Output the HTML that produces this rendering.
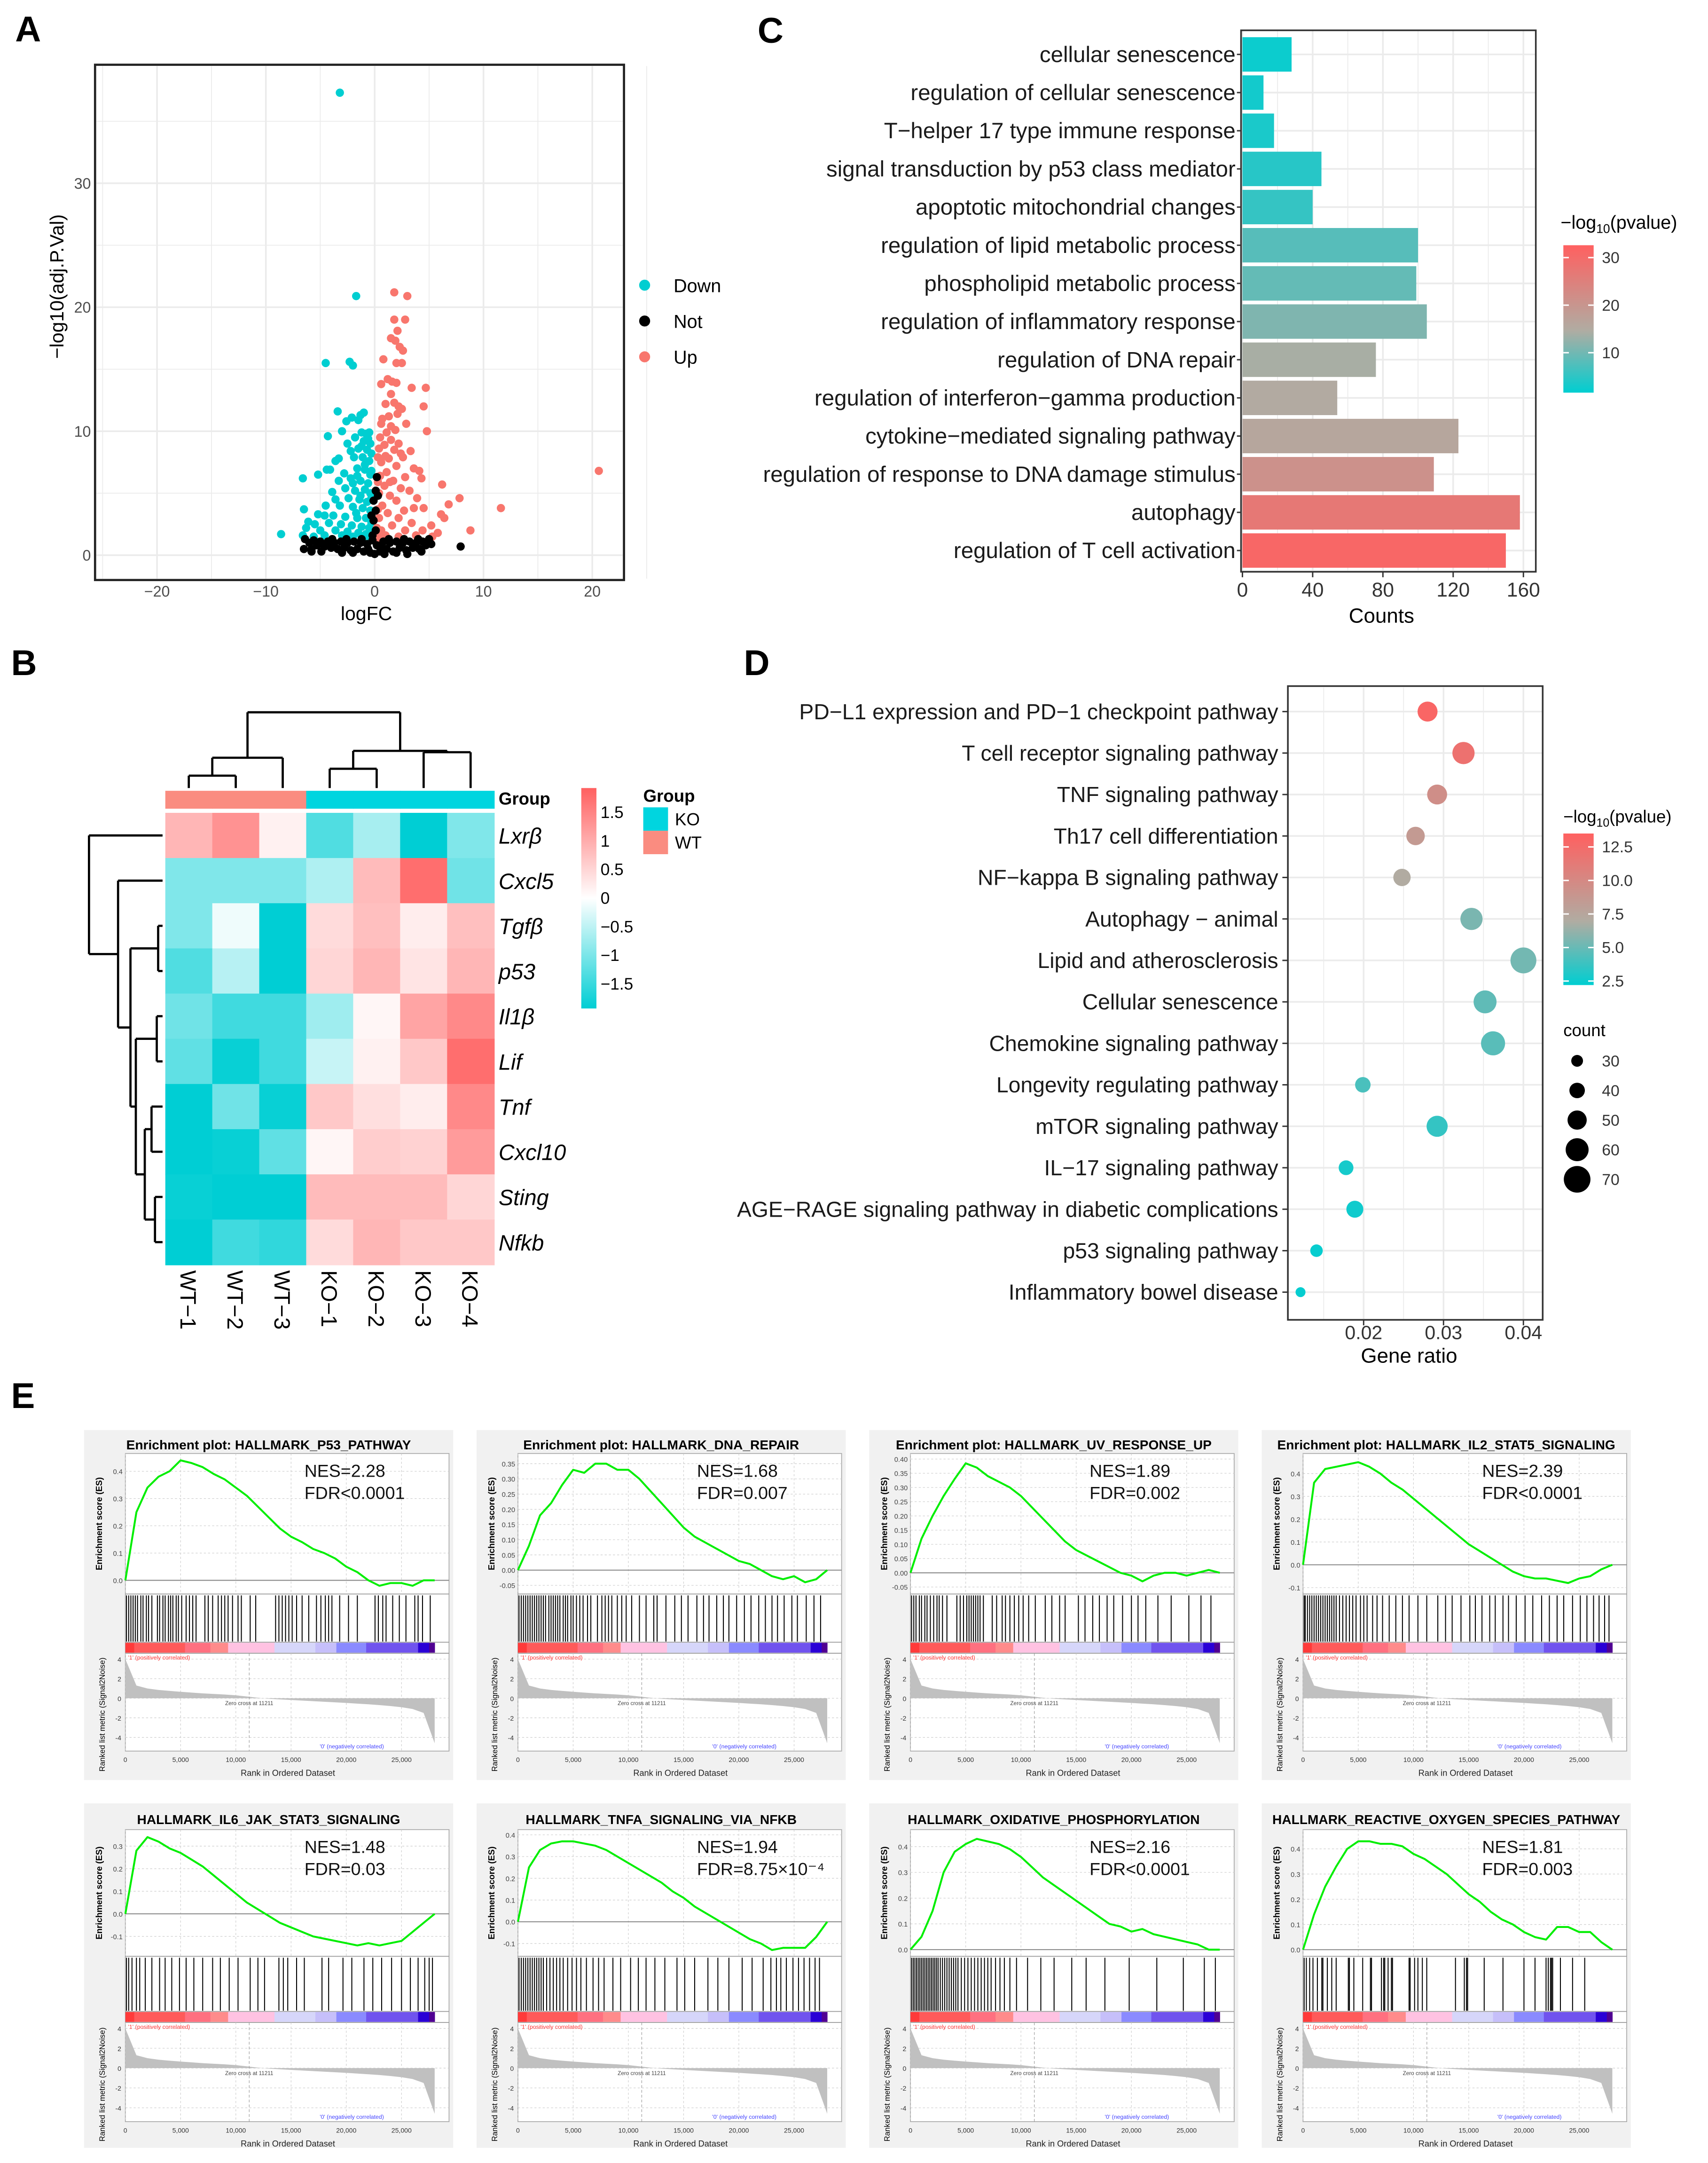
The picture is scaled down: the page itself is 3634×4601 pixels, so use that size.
<!DOCTYPE html>
<html><head><meta charset="utf-8">
<style>
html,body{margin:0;padding:0;background:#fff;}
svg{display:block;font-family:"Liberation Sans",Arial,sans-serif;}
</style></head>
<body>
<svg id="fig" xmlns="http://www.w3.org/2000/svg" width="3634" height="4601" viewBox="0 0 1240 1570">
<rect x="0" y="0" width="1240" height="1570" fill="#fff"/>
<text x="11" y="30" font-size="26" font-weight="bold">A</text>
<text x="8" y="490" font-size="26" font-weight="bold">B</text>
<text x="550" y="31" font-size="26" font-weight="bold">C</text>
<text x="540" y="490" font-size="26" font-weight="bold">D</text>
<text x="8" y="1022" font-size="26" font-weight="bold">E</text>
</svg>
<script>
// ---------- DATA ----------
const downPts=[[-3.2,37.3],[-1.7,20.9],[-4.5,15.5],[-2.3,15.6],[-2.0,15.3],[-3.4,11.6],[-1.0,11.5],[-1.3,11.3],[-2.1,11.1],[-2.6,10.8],[-1.5,10.9],[-3.0,10.0],[-4.3,9.6],[-1.2,9.9],[-0.8,9.8],[-0.5,9.9],[-1.8,9.5],[-2.5,9.0],[-1.0,9.2],[-0.4,9.0],[-1.5,8.6],[-2.2,8.4],[-0.7,8.5],[-3.6,7.6],[-3.3,7.8],[-1.9,7.9],[-1.1,7.9],[-0.5,7.6],[-4.1,6.9],[-4.4,6.9],[-5.2,6.5],[-2.8,6.6],[-1.6,7.0],[-0.9,6.9],[-0.4,6.5],[-6.6,6.2],[-3.3,6.0],[-2.2,6.2],[-1.3,6.0],[-0.6,5.8],[-2.7,5.4],[-1.8,5.2],[-0.9,5.3],[-0.4,5.0],[-3.9,5.1],[-3.6,4.5],[-2.4,4.6],[-1.4,4.5],[-0.7,4.3],[-4.5,4.0],[-3.2,4.0],[-2.0,3.9],[-1.1,3.8],[-0.4,3.6],[-6.5,3.7],[-5.2,3.3],[-4.6,3.2],[-3.8,3.2],[-2.7,3.1],[-1.6,3.0],[-0.8,3.0],[-6.1,2.7],[-5.5,2.5],[-4.2,2.6],[-3.1,2.5],[-2.1,2.4],[-1.2,2.3],[-0.5,2.2],[-6.3,2.2],[-5.0,2.0],[-3.6,2.0],[-2.5,1.9],[-1.5,1.8],[-0.8,1.7],[-8.6,1.7],[-6.6,1.6],[-4.6,1.6],[-3.0,1.6],[-2.0,1.5],[-1.0,1.5],[-0.4,1.4],[-5.6,1.5],[-0.3,8.2],[-0.3,6.8],[-0.3,4.6],[-0.3,2.6],[-1.6,6.4],[-1.3,4.8],[-0.9,7.3],[-2.0,5.8],[-1.7,3.4],[-1.2,8.8],[-0.6,9.4]];
const upPts=[[1.8,21.2],[3.0,20.9],[1.8,19.0],[2.8,19.0],[2.1,18.1],[1.5,17.5],[1.9,17.3],[2.3,16.8],[2.6,16.5],[0.8,15.8],[2.0,15.5],[2.5,15.5],[1.2,14.2],[1.6,14.0],[2.0,13.9],[0.6,13.8],[3.4,13.5],[4.7,13.5],[1.5,13.0],[1.8,12.3],[2.2,12.0],[4.5,12.0],[1.0,12.2],[2.5,11.8],[2.1,11.4],[1.3,11.2],[0.7,11.0],[2.9,10.6],[1.5,10.4],[0.6,10.6],[1.9,10.1],[1.1,9.9],[4.8,10.0],[0.5,9.5],[1.5,9.3],[2.2,9.0],[0.9,8.9],[1.8,8.5],[0.4,8.6],[3.3,8.4],[2.6,7.9],[1.3,7.8],[0.6,7.5],[2.0,7.2],[3.6,7.0],[4.1,6.8],[1.1,6.7],[0.5,6.4],[2.8,6.3],[4.3,6.2],[1.7,6.0],[6.2,5.7],[0.9,5.6],[2.4,5.4],[3.2,5.2],[0.4,5.0],[1.4,4.8],[3.9,4.6],[2.0,4.4],[7.8,4.6],[6.8,4.1],[0.7,4.0],[3.6,3.8],[2.7,3.6],[4.5,3.8],[1.2,3.4],[6.1,3.3],[6.4,3.0],[0.4,3.0],[2.2,3.0],[3.4,2.6],[5.2,2.4],[1.6,2.4],[8.8,2.0],[0.6,2.0],[2.8,2.0],[4.4,2.0],[5.8,1.8],[1.0,1.6],[3.8,1.6],[5.3,1.5],[2.2,1.5],[0.4,1.4],[20.6,6.8],[11.6,3.8],[0.3,7.9],[0.3,5.9],[0.3,3.7],[0.2,2.2],[1.0,8.0],[1.4,5.9],[2.4,8.2]];
const notPts=[[-6.4,1.3],[-6.0,1.0],[-5.6,1.2],[-5.3,0.8],[-5.0,1.1],[-4.6,0.7],[-4.3,1.1],[-4.0,0.6],[-3.7,1.0],[-3.4,0.5],[-3.1,1.1],[-2.8,0.6],[-2.5,1.0],[-2.2,0.4],[-1.9,1.1],[-1.6,0.5],[-1.3,1.0],[-1.0,0.3],[-0.7,0.9],[-0.4,0.2],[-0.2,1.2],[0,0.1],[0.2,0.8],[0.5,0.3],[0.8,1.1],[1.1,0.5],[1.4,1.0],[1.7,0.3],[2.0,1.1],[2.3,0.6],[2.6,1.0],[2.9,0.4],[3.2,1.1],[3.5,0.6],[3.8,1.0],[4.1,0.5],[4.4,1.1],[4.7,0.8],[5.0,1.3],[5.2,0.9],[7.9,0.7],[-6.5,0.5],[-5.8,0.3],[-5.8,0.5],[-4.9,0.3],[-3.0,0.2],[-2.0,0.2],[0.9,0.1],[2.0,0.2],[3.0,0.1],[4.3,0.3],[0.1,2.0],[-0.1,2.8],[0.1,3.6],[-0.1,4.4],[0.1,5.2],[0.2,6.3],[-0.2,1.6],[0.3,4.8],[-0.3,3.2],[-1.2,1.3],[1.3,1.3],[-2.6,1.3],[2.7,1.3],[-3.9,1.3],[4.0,1.3],[-0.6,0.5],[0.6,0.6]];
const goTerms=["cellular senescence","regulation of cellular senescence","T\u2212helper 17 type immune response","signal transduction by p53 class mediator","apoptotic mitochondrial changes","regulation of lipid metabolic process","phospholipid metabolic process","regulation of inflammatory response","regulation of DNA repair","regulation of interferon\u2212gamma production","cytokine\u2212mediated signaling pathway","regulation of response to DNA damage stimulus","autophagy","regulation of T cell activation"];
const goCounts=[28,12,18,45,40,100,99,105,76,54,123,109,158,150];
const goLogP=[2.5,3,3.5,4.5,5.5,8,9,11,14,15,16,21,27,31];
const goTicks=[0,40,80,120,160];
const goLegendTicks=[10,20,30];
const hmRows=["Lxr\u03b2","Cxcl5","Tgf\u03b2","p53","Il1\u03b2","Lif","Tnf","Cxcl10","Sting","Nfkb"];
const hmCols=["WT\u22121","WT\u22122","WT\u22123","KO\u22121","KO\u22122","KO\u22123","KO\u22124"];
const hmGroups=["WT","WT","WT","KO","KO","KO","KO"];
const hmValues=[
[0.8,1.2,0.15,-1.1,-0.55,-1.65,-0.8],
[-0.8,-0.8,-0.8,-0.5,0.75,1.6,-0.9],
[-0.8,-0.1,-1.6,0.4,0.7,0.2,0.7],
[-1.1,-0.45,-1.6,0.45,0.8,0.3,0.8],
[-0.9,-1.2,-1.2,-0.6,0.1,1.0,1.3],
[-1.0,-1.55,-1.2,-0.35,0.15,0.6,1.6],
[-1.6,-0.9,-1.55,0.6,0.35,0.2,1.3],
[-1.6,-1.55,-1.0,0.1,0.55,0.5,1.1],
[-1.55,-1.6,-1.6,0.75,0.75,0.75,0.45],
[-1.6,-1.2,-1.3,0.4,0.8,0.6,0.6]];
const hmLegendTicks=[1.5,1,0.5,0,-0.5,-1,-1.5];
const kegg=["PD\u2212L1 expression and PD\u22121 checkpoint pathway","T cell receptor signaling pathway","TNF signaling pathway","Th17 cell differentiation","NF\u2212kappa B signaling pathway","Autophagy \u2212 animal","Lipid and atherosclerosis","Cellular senescence","Chemokine signaling pathway","Longevity regulating pathway","mTOR signaling pathway","IL\u221217 signaling pathway","AGE\u2212RAGE signaling pathway in diabetic complications","p53 signaling pathway","Inflammatory bowel disease"];
const keggRatio=[0.028,0.0325,0.0292,0.0265,0.0248,0.0335,0.040,0.0352,0.0362,0.0199,0.0292,0.0178,0.0189,0.0141,0.0121];
const keggCount=[52,58,52,48,45,58,68,60,63,40,55,38,44,32,25];
const keggLogP=[13,12,9.5,8.5,7,5.5,5.3,4.8,4.6,4.2,3.6,2.8,2.6,2.4,2.3];
const keggTicks=[0.02,0.03,0.04];
const keggPTicks=[2.5,5.0,7.5,10.0,12.5];
const keggCountTicks=[30,40,50,60,70];
const gseaTitles=["Enrichment plot: HALLMARK_P53_PATHWAY","Enrichment plot: HALLMARK_DNA_REPAIR","Enrichment plot: HALLMARK_UV_RESPONSE_UP","Enrichment plot: HALLMARK_IL2_STAT5_SIGNALING","HALLMARK_IL6_JAK_STAT3_SIGNALING","HALLMARK_TNFA_SIGNALING_VIA_NFKB","HALLMARK_OXIDATIVE_PHOSPHORYLATION","HALLMARK_REACTIVE_OXYGEN_SPECIES_PATHWAY"];
const gseaNES=["NES=2.28","NES=1.68","NES=1.89","NES=2.39","NES=1.48","NES=1.94","NES=2.16","NES=1.81"];
const gseaFDR=["FDR<0.0001","FDR=0.007","FDR=0.002","FDR<0.0001","FDR=0.03","FDR=8.75\u00d710\u207b\u2074","FDR<0.0001","FDR=0.003"];
const esP53=[0,0.25,0.34,0.38,0.40,0.44,0.43,0.415,0.39,0.37,0.34,0.31,0.27,0.23,0.19,0.16,0.14,0.115,0.10,0.08,0.05,0.03,0.0,-0.02,-0.01,-0.01,-0.02,0.0,0.0];
const esDNA=[0,0.08,0.18,0.22,0.28,0.33,0.32,0.35,0.35,0.33,0.33,0.30,0.26,0.22,0.18,0.14,0.11,0.09,0.07,0.05,0.03,0.02,0.0,-0.02,-0.03,-0.02,-0.04,-0.03,0.0];
const esUV=[0,0.12,0.20,0.27,0.33,0.385,0.37,0.34,0.32,0.30,0.27,0.23,0.19,0.15,0.11,0.08,0.06,0.04,0.02,0.0,-0.01,-0.03,-0.01,0.0,0.0,-0.01,0.0,0.01,0.0];
const esIL2=[0,0.36,0.42,0.43,0.44,0.45,0.43,0.40,0.36,0.33,0.29,0.25,0.21,0.17,0.13,0.09,0.06,0.03,0.0,-0.03,-0.05,-0.06,-0.06,-0.07,-0.08,-0.06,-0.05,-0.02,0.0];
const esIL6=[0,0.28,0.34,0.32,0.29,0.27,0.24,0.21,0.17,0.13,0.09,0.05,0.02,-0.01,-0.04,-0.06,-0.08,-0.10,-0.11,-0.12,-0.13,-0.14,-0.13,-0.14,-0.13,-0.12,-0.08,-0.04,0.0];
const esTNF=[0,0.25,0.33,0.36,0.37,0.37,0.36,0.35,0.33,0.30,0.27,0.24,0.21,0.18,0.14,0.11,0.07,0.04,0.01,-0.02,-0.05,-0.08,-0.10,-0.13,-0.12,-0.12,-0.12,-0.07,0.0];
const esOX=[0,0.05,0.15,0.30,0.38,0.41,0.43,0.42,0.41,0.39,0.36,0.32,0.28,0.25,0.22,0.19,0.16,0.13,0.10,0.09,0.07,0.08,0.06,0.05,0.04,0.03,0.02,0.0,0.0];
const esROS=[0,0.14,0.25,0.33,0.40,0.43,0.43,0.42,0.42,0.41,0.38,0.36,0.33,0.30,0.26,0.22,0.19,0.15,0.12,0.10,0.07,0.05,0.04,0.09,0.09,0.07,0.07,0.03,0.0];
const gseaES=[esP53,esDNA,esUV,esIL2,esIL6,esTNF,esOX,esROS];
const hitsP53=[0.1,0.3,0.5,0.7,0.9,1.1,1.4,1.6,1.9,2.1,2.4,2.9,3.1,3.4,3.6,3.9,4.1,4.3,4.6,4.8,5.1,5.5,5.8,6.1,6.4,7.2,7.5,7.9,8.4,8.7,9.0,9.3,9.7,10.2,10.5,11.3,11.8,13.6,13.9,14.2,14.5,14.8,15.1,15.5,16.0,16.6,17.3,17.7,18.1,18.4,18.7,19.4,20.2,21.0,22.6,22.9,23.3,23.6,24.2,24.8,25.4,26.2,26.5,26.9,27.6];
const hitsDNA=[0.1,0.3,0.5,0.7,0.9,1.1,1.3,1.5,1.7,1.9,2.1,2.3,2.5,2.8,3.0,3.2,3.4,3.6,3.8,4.1,4.3,4.5,4.8,5.0,5.3,5.6,5.9,6.3,6.6,7.2,7.6,7.9,8.2,8.5,9.0,9.4,9.8,10.3,11.0,11.6,12.3,12.6,13.4,14.2,14.8,15.4,16.2,16.8,17.3,18.0,18.6,19.1,19.8,20.5,21.1,21.8,22.4,23.0,23.5,24.1,24.8,25.3,26.1,26.8,27.4];
const hitsUV=[0.1,0.3,0.5,0.8,1.0,1.3,1.5,1.8,2.1,2.4,2.6,2.9,3.3,4.2,4.5,4.8,5.1,5.3,5.5,5.7,5.9,6.1,6.3,6.6,7.4,7.8,8.3,8.6,9.0,9.4,9.8,10.2,10.7,11.3,12.2,12.8,13.5,14.0,15.2,15.8,16.5,17.1,17.8,18.4,19.2,20.0,20.6,21.3,22.4,23.6,25.2,26.3,27.2];
const hitsIL2=[0.1,0.2,0.4,0.6,0.8,1.0,1.2,1.4,1.6,1.8,2.0,2.2,2.4,2.6,2.8,3.0,3.3,3.6,3.9,4.2,4.5,4.8,5.2,5.5,5.8,6.3,6.7,7.2,7.8,8.4,9.0,9.6,10.4,11.2,12.2,12.9,13.5,14.3,15.1,15.6,16.2,16.9,17.4,18.1,18.6,19.3,20.1,20.8,21.6,22.3,23.0,23.6,24.4,25.1,25.7,26.3,26.8,27.3,27.7];
const hitsIL6=[0.1,0.3,0.6,1.0,1.3,1.8,2.4,3.1,3.6,4.2,4.9,5.5,6.2,7.0,7.9,8.6,9.4,10.2,11.3,12.0,12.6,13.9,14.3,14.7,15.5,16.2,17.8,18.4,19.7,20.5,21.6,22.4,23.2,24.1,25.0,25.8,26.5,27.1,27.5,27.8];
const hitsTNF=[0.1,0.3,0.5,0.7,0.9,1.1,1.3,1.5,1.7,1.9,2.1,2.3,2.6,2.9,3.2,3.5,3.8,4.1,4.5,4.9,5.3,5.7,6.2,6.8,7.3,7.8,8.6,9.3,10.2,10.9,11.6,12.4,13.3,14.4,15.1,16.0,17.2,18.1,19.1,20.3,21.2,22.2,22.9,23.4,23.8,24.3,24.9,25.4,25.9,26.4,26.9,27.3];
const hitsOX=[0.1,0.25,0.4,0.55,0.7,0.85,1.0,1.15,1.3,1.45,1.6,1.75,1.9,2.05,2.2,2.35,2.5,2.7,2.9,3.1,3.3,3.5,3.7,3.9,4.1,4.3,4.6,4.9,5.2,5.5,5.8,6.1,6.4,6.7,7.0,7.3,7.7,8.1,8.5,9.0,9.6,10.6,11.8,13.0,14.6,15.9,17.6,19.8,22.3,24.7,26.6,27.6];
const hitsROS=[0.1,0.3,0.6,0.9,1.3,1.7,1.8,2.2,2.6,3.0,4.1,4.2,4.6,5.4,6.1,6.2,7.1,7.3,7.4,7.7,8.0,8.1,9.6,9.7,10.1,10.4,10.8,11.2,13.8,14.6,14.8,14.9,16.4,18.1,20.0,21.0,22.0,22.2,22.4,22.5,22.6,23.3,24.4,25.5];
const gseaHits=[hitsP53,hitsDNA,hitsUV,hitsIL2,hitsIL6,hitsTNF,hitsOX,hitsROS];
const gseaRange=[[-0.035,0.45],[-0.065,0.37],[-0.06,0.405],[-0.11,0.47],[-0.17,0.355],[-0.14,0.405],[-0.01,0.45],[-0.01,0.46]];
const gseaTicks=[[0,0.1,0.2,0.3,0.4],[-0.05,0,0.05,0.1,0.15,0.2,0.25,0.3,0.35],[-0.05,0,0.05,0.1,0.15,0.2,0.25,0.3,0.35,0.4],[-0.1,0,0.1,0.2,0.3,0.4],[-0.1,0,0.1,0.2,0.3],[-0.1,0,0.1,0.2,0.3,0.4],[0,0.1,0.2,0.3,0.4],[0,0.1,0.2,0.3,0.4]];
const rankMetric=[4.0,1.3,1.0,0.85,0.75,0.66,0.58,0.5,0.44,0.38,0.3,0.18,0.05,-0.05,-0.12,-0.18,-0.24,-0.3,-0.36,-0.42,-0.48,-0.55,-0.62,-0.7,-0.8,-0.92,-1.1,-1.5,-4.6];
const rankStep=1000;
const rankTicks=[0,5000,10000,15000,20000,25000];
const metricTicks=[4,2,0,-2,-4];
const colorBands=[[0,0.8,"#ff3a3a"],[0.8,5.4,"#ff5a5a"],[5.4,7.7,"#ff7080"],[7.7,9.3,"#ff8b8b"],[9.3,13.5,"#ffc2e2"],[13.5,17.2,"#d6d6fa"],[17.2,19.1,"#c6bffa"],[19.1,21.8,"#8a8aff"],[21.8,26.5,"#7053ee"],[26.5,27.5,"#2a00d6"],[27.5,28.0,"#500092"]];

// ---------- HELPERS ----------
const NS="http://www.w3.org/2000/svg";
const svg=document.getElementById("fig");
function mk(tag,a,p){const e=document.createElementNS(NS,tag);for(const k in a)e.setAttribute(k,a[k]);(p||svg).appendChild(e);return e;}
function tx(x,y,s,a,p){const e=mk("text",Object.assign({x:x,y:y},a||{}),p);e.textContent=s;return e;}
function lerpC(c1,c2,t){return "rgb("+c1.map((v,i)=>Math.round(v+(c2[i]-v)*t)).join(",")+")";}
function scale3(t,c0,c1,c2,m){t=Math.max(0,Math.min(1,t));return t<m?lerpC(c0,c1,t/m):lerpC(c1,c2,(t-m)/(1-m));}
const TEAL=[0,206,209],MID=[176,172,162],RED=[255,96,96];

// ---------- PANEL A ----------
const gA=mk("g",{});


const xA=v=>272+v*7.9, yA=v=>403-v*9;
const plotA=mk("rect",{x:69,y:47,width:384,height:374,fill:"#fff"},gA);


for(let v=-25;v<=25;v+=5){const l=mk("line",{x1:xA(v),x2:xA(v),y1:48,y2:420,stroke:"#ebebeb","stroke-width":v%10===0?1.2:0.6},gA);

}
for(let v=0;v<=40;v+=5){if(yA(v)<48)continue;const l=mk("line",{x1:70,x2:452,y1:yA(v),y2:yA(v),stroke:"#ebebeb","stroke-width":v%10===0?1.2:0.6},gA);

}
function dots(arr,col,name){arr.forEach(p=>{const c=mk("circle",{cx:xA(p[0]),cy:yA(p[1]),r:3,fill:col},gA);

});}
dots(downPts,"#00CED1","point-down");
dots(upPts,"#F8766D","point-up");
dots(notPts,"#000","point-not");
const borderA=mk("rect",{x:69,y:47,width:384,height:374,fill:"none",stroke:"#222","stroke-width":1.6},gA);


[-20,-10,0,10,20].forEach(v=>{const t=tx(xA(v),433,(v<0?"\u2212":"")+Math.abs(v),{"font-size":11,fill:"#4d4d4d","text-anchor":"middle"},gA);

});
[0,10,20,30].forEach(v=>{const t=tx(66,yA(v)+4,String(v),{"font-size":11,fill:"#4d4d4d","text-anchor":"end"},gA);

});
const xtA=tx(266,450,"logFC",{"font-size":14,"text-anchor":"middle"},gA);


const ytA=tx(0,0,"\u2212log10(adj.P.Val)",{"font-size":14,"text-anchor":"middle",transform:"translate(46,208) rotate(-90)"},gA);


[["Down","#00CED1",207],["Not","#000",233],["Up","#F8766D",259]].forEach(e=>{const c=mk("circle",{cx:468,cy:e[2],r:4,fill:e[1]},gA);


const t=tx(489,e[2]+5,e[0],{"font-size":13.5},gA);

});

// ---------- PANEL C ----------
const gC=mk("g",{});


const xC=v=>902+v*1.275;
const rowC=i=>39.5+i*27.7;
const colC=p=>scale3((p-1.6)/(32.6-1.6),TEAL,MID,RED,0.42);
for(let v=0;v<=180;v+=20){if(xC(v)>1115)continue;const l=mk("line",{x1:xC(v),x2:xC(v),y1:22,y2:414,stroke:"#ebebeb","stroke-width":v%40===0?1.2:0.6},gC);

}
goTerms.forEach((t,i)=>{const l=mk("line",{x1:902,x2:1115,y1:rowC(i),y2:rowC(i),stroke:"#ebebeb","stroke-width":1.2},gC);

});
goTerms.forEach((t,i)=>{
const b=mk("rect",{x:902,y:rowC(i)-12.5,width:goCounts[i]*1.275,height:25,fill:colC(goLogP[i])},gC);


const lb=tx(897,rowC(i)+5.5,t,{"font-size":16.2,"text-anchor":"end",fill:"#1a1a1a"},gC);


const tk=mk("line",{x1:898,x2:901,y1:rowC(i),y2:rowC(i),stroke:"#333"},gC);

});
const borderC=mk("rect",{x:901,y:22,width:214,height:393,fill:"none",stroke:"#333","stroke-width":1.2},gC);


goTicks.forEach(v=>{const tk=mk("line",{x1:xC(v),x2:xC(v),y1:415,y2:419,stroke:"#333"},gC);


const t=tx(xC(v),433,String(v),{"font-size":14.5,"text-anchor":"middle",fill:"#333"},gC);

});
const xtC=tx(1003,452,"Counts",{"font-size":15,"text-anchor":"middle"},gC);


const defs=mk("defs",{});
const grC=mk("linearGradient",{id:"gradC",x1:0,y1:1,x2:0,y2:0},defs);
[[0,TEAL],[0.42,MID],[1,RED]].forEach(s=>mk("stop",{offset:s[0],"stop-color":"rgb("+s[1].join(",")+")"},grC));
const ltC=tx(1133,166,"",{"font-size":13.5},gC);


ltC.innerHTML='\u2212log<tspan font-size="9" dy="3">10</tspan><tspan dy="-3">(pvalue)</tspan>';
const cbC=mk("rect",{x:1135,y:178,width:22,height:107,fill:"url(#gradC)"},gC);


const yCbC=v=>285-(v-1.6)/(32.6-1.6)*107;
goLegendTicks.forEach(v=>{const t=tx(1163,yCbC(v)+4,String(v),{"font-size":11.5,fill:"#333"},gC);


mk("line",{x1:1135,x2:1139,y1:yCbC(v),y2:yCbC(v),stroke:"#fff"},gC);
mk("line",{x1:1153,x2:1157,y1:yCbC(v),y2:yCbC(v),stroke:"#fff"},gC);});

// ---------- PANEL B ----------
const gB=mk("g",{});


const cellW=34.1, cellH=32.8, hx0=120, hy0=590;
const hmColor=v=>v>=0?lerpC([255,255,255],[255,96,96],Math.min(1,v/1.75)):lerpC([255,255,255],[0,206,212],Math.min(1,-v/1.6));
hmValues.forEach((row,r)=>row.forEach((v,c)=>{const cell=mk("rect",{x:hx0+c*cellW,y:hy0+r*cellH,width:cellW+0.4,height:cellH+0.4,fill:hmColor(v)},gB);

}));
hmGroups.forEach((g,c)=>{const b=mk("rect",{x:hx0+c*cellW,y:574,width:cellW+0.4,height:13,fill:g==="WT"?"#FA8C80":"#00D5DF"},gB);

});
const gl=tx(362,584,"Group",{"font-size":12.5,"font-weight":"bold"},gB);


hmRows.forEach((n,r)=>{const t=tx(362,hy0+r*cellH+cellH/2+6,n,{"font-size":16,"font-style":"italic"},gB);

});
hmCols.forEach((n,c)=>{const t=tx(0,0,n,{"font-size":16,transform:"translate("+(hx0+c*cellW+cellW/2-6)+",922) rotate(90)"},gB);

});
function dline(x1,y1,x2,y2){const l=mk("line",{x1:x1,y1:y1,x2:x2,y2:y2,stroke:"#000","stroke-width":1.6},gB);

}
const colX=c=>hx0+c*cellW+cellW/2;
function topJoin(a,b,h){dline(a[0],a[1],a[0],h);dline(b[0],b[1],b[0],h);dline(a[0],h,b[0],h);return [(a[0]+b[0])/2,h];}
const L=c=>[colX(c),572];
const w12=topJoin(L(0),L(1),563), w123=topJoin(w12,L(2),550);
const k12=topJoin(L(3),L(4),558), k34=topJoin(L(5),L(6),546), kAll=topJoin(k12,k34,545);
topJoin(w123,kAll,517);
const rowY=r=>hy0+r*cellH+cellH/2;
function leftJoin(a,b,x){dline(a[0],a[1],x,a[1]);dline(b[0],b[1],x,b[1]);dline(x,a[1],x,b[1]);return [x,(a[1]+b[1])/2];}
const R=r=>[118,rowY(r)];
const tg=leftJoin(R(2),R(3),114.8), il=leftJoin(R(4),R(5),113.8), tc=leftJoin(R(6),R(7),110), sn=leftJoin(R(8),R(9),112.5);
const tcsn=leftJoin(tc,sn,105.1), iltc=leftJoin(il,tcsn,98.6), tgil=leftJoin(tg,iltc,94.7), cx5=leftJoin(R(1),tgil,85.7);
leftJoin(R(0),cx5,64.6);
const grB=mk("linearGradient",{id:"gradB",x1:0,y1:0,x2:0,y2:1},defs);
[[0,"#ff6060"],[0.5,"#ffffff"],[1,"#00CED4"]].forEach(s=>mk("stop",{offset:s[0],"stop-color":s[1]},grB));
const cbB=mk("rect",{x:422,y:572,width:11,height:160,fill:"url(#gradB)"},gB);


const yCbB=v=>652-v*41.5;
hmLegendTicks.forEach(v=>{const t=tx(436,yCbB(v)+4,(v<0?"\u2212":"")+Math.abs(v),{"font-size":12},gB);

});
const glt=tx(467,582,"Group",{"font-size":12.5,"font-weight":"bold"},gB);


[["KO","#00D5DF",586],["WT","#FA8C80",603]].forEach(e=>{const b=mk("rect",{x:467,y:e[2],width:18,height:17,fill:e[1]},gB);


const t=tx(490,e[2]+13,e[0],{"font-size":12.5},gB);

});

// ---------- PANEL D ----------
const gD=mk("g",{});


const xD=v=>990+(v-0.02)*5800, rowD=i=>516.5+i*30.1;
const colD=p=>scale3((p-2.2)/(13.5-2.2),TEAL,MID,RED,0.42);
const rD=c=>3.6+(c-25)*0.135;
for(let v=0.015;v<=0.041;v+=0.005){const l=mk("line",{x1:xD(v),x2:xD(v),y1:499,y2:958,stroke:"#ebebeb","stroke-width":Math.abs((v*100)%1)<0.01||Math.abs((v*100)%1-1)<0.01?1.2:0.6},gD);

}
kegg.forEach((k,i)=>{const l=mk("line",{x1:935,x2:1120,y1:rowD(i),y2:rowD(i),stroke:"#ebebeb","stroke-width":1.2},gD);


const t=tx(928,rowD(i)+5.5,k,{"font-size":15.8,"text-anchor":"end",fill:"#1a1a1a"},gD);


const tk=mk("line",{x1:931,x2:935,y1:rowD(i),y2:rowD(i),stroke:"#333"},gD);

});
kegg.forEach((k,i)=>{const c=mk("circle",{cx:xD(keggRatio[i]),cy:rowD(i),r:rD(keggCount[i]),fill:colD(keggLogP[i])},gD);

});
const borderD=mk("rect",{x:935,y:498,width:185,height:460,fill:"none",stroke:"#333","stroke-width":1.2},gD);


keggTicks.forEach(v=>{const tk=mk("line",{x1:xD(v),x2:xD(v),y1:958,y2:962,stroke:"#333"},gD);


const t=tx(xD(v),972,String(v),{"font-size":14,"text-anchor":"middle",fill:"#333"},gD);

});
const xtD=tx(1023,989,"Gene ratio",{"font-size":15,"text-anchor":"middle"},gD);


const ltD=tx(1135,597,"",{"font-size":12.5},gD);


ltD.innerHTML='\u2212log<tspan font-size="8.5" dy="3">10</tspan><tspan dy="-3">(pvalue)</tspan>';
const cbD=mk("rect",{x:1135,y:605,width:22,height:110,fill:"url(#gradC)"},gD);


const yCbD=v=>715-(v-2.2)/(13.5-2.2)*110;
keggPTicks.forEach(v=>{const t=tx(1163,yCbD(v)+4,v.toFixed(1),{"font-size":11.5,fill:"#333"},gD);


mk("line",{x1:1135,x2:1139,y1:yCbD(v),y2:yCbD(v),stroke:"#fff"},gD);
mk("line",{x1:1153,x2:1157,y1:yCbD(v),y2:yCbD(v),stroke:"#fff"},gD);});
const lsD=tx(1135,752,"count",{"font-size":12.5},gD);


keggCountTicks.forEach((v,i)=>{const y=770+i*21.5;const c=mk("circle",{cx:1145,cy:y,r:rD(v),fill:"#000"},gD);


const t=tx(1163,y+4,String(v),{"font-size":11.5,fill:"#333"},gD);

});

// ---------- PANEL E ----------
const panelPos=[[61,1040,0],[346,1040,0],[631,1040,0],[916,1040,0],[61,1311,1],[346,1311,1],[631,1311,1],[916,1311,1]];
const layouts=[{title:12,es0:15,es1:117,h1:152,c1:160,m1:231,tk:239,tt:249,h:254},{title:13,es0:17,es1:109,h1:149,c1:157,m1:229,tk:237,tt:247,h:250}];
gseaTitles.forEach((title,pi)=>{
const ox=panelPos[pi][0], oy=panelPos[pi][1], Ly=layouts[panelPos[pi][2]];
const g=mk("g",{});


const bg=mk("rect",{x:ox,y:oy-2,width:268,height:Ly.h,fill:"#f1f1f1"},g);


const tt=tx(ox+134,oy+Ly.title,title,{"font-size":9.6,"font-weight":"bold","text-anchor":"middle"},g);


const L0=ox+30, xR=r=>L0+r/5000*40.1, R0=ox+265;
const pa=mk("rect",{x:L0,y:oy+Ly.es0,width:R0-L0,height:Ly.m1-Ly.es0,fill:"#fff",stroke:"#aaa","stroke-width":0.6},g);


[Ly.es1,Ly.h1,Ly.c1].forEach(y=>mk("line",{x1:L0,x2:R0,y1:oy+y,y2:oy+y,stroke:"#999","stroke-width":0.6},g));
const rg=gseaRange[pi];
const yE=v=>oy+Ly.es1-3-(v-rg[0])/(rg[1]-rg[0])*(Ly.es1-Ly.es0-6);
rankTicks.forEach(r=>{const l=mk("line",{x1:xR(r),x2:xR(r),y1:oy+Ly.es0,y2:oy+Ly.es1,stroke:"#ccc","stroke-width":0.4,"stroke-dasharray":"1.5,1.5"},g);


mk("line",{x1:xR(r),x2:xR(r),y1:oy+Ly.c1,y2:oy+Ly.m1,stroke:"#ccc","stroke-width":0.4,"stroke-dasharray":"1.5,1.5"},g);
const t=tx(xR(r),oy+Ly.tk,r===0?"0":r.toLocaleString("en-US"),{"font-size":4.8,"text-anchor":"middle",fill:"#333"},g);

});
gseaTicks[pi].forEach(v=>{mk("line",{x1:L0,x2:R0,y1:yE(v),y2:yE(v),stroke:v===0?"#888":"#ccc","stroke-width":v===0?0.7:0.4,"stroke-dasharray":v===0?"":"1.5,1.5"},g);
const t=tx(L0-2,yE(v)+2,v.toFixed(gseaTicks[pi].length>6?2:1),{"font-size":5,"text-anchor":"end",fill:"#444"},g);

});
const es=gseaES[pi];
const pts=es.map((v,i)=>xR(i*rankStep).toFixed(2)+","+yE(v).toFixed(2)).join(" ");
const curve=mk("polyline",{points:pts,fill:"none",stroke:"#00ee00","stroke-width":1.4,"stroke-linejoin":"round"},g);


gseaHits[pi].forEach(h=>{const l=mk("line",{x1:xR(h*1000),x2:xR(h*1000),y1:oy+Ly.es1+1,y2:oy+Ly.h1-0.5,stroke:"#000","stroke-width":0.7},g);

});
colorBands.forEach(b=>{const r=mk("rect",{x:xR(b[0]*1000),y:oy+Ly.h1+0.4,width:xR(b[1]*1000)-xR(b[0]*1000)+0.2,height:Ly.c1-Ly.h1-0.8,fill:b[2]},g);

});
const mTop=oy+Ly.c1, mBot=oy+Ly.m1, mPer=(mBot-mTop)/10, yM=v=>mTop+mPer*(4.6-v);
metricTicks.forEach(v=>{mk("line",{x1:L0,x2:R0,y1:yM(v),y2:yM(v),stroke:"#ccc","stroke-width":0.4,"stroke-dasharray":"1.5,1.5"},g);
const t=tx(L0-3,yM(v)+2,String(v),{"font-size":4.8,"text-anchor":"end",fill:"#333"},g);

});
let d="M"+xR(0)+","+yM(0);
rankMetric.forEach((v,i)=>{d+=" L"+xR(i*rankStep).toFixed(2)+","+yM(v).toFixed(2);});
d+=" L"+xR((rankMetric.length-1)*rankStep).toFixed(2)+","+yM(0)+" Z";
const area=mk("path",{d:d,fill:"#c0c0c0"},g);


mk("line",{x1:xR(11211),x2:xR(11211),y1:mTop,y2:mBot,stroke:"#999","stroke-width":0.4,"stroke-dasharray":"2,1.5"},g);
const zt=tx(xR(11211),yM(0)+5,"Zero cross at 11211",{"font-size":4,"text-anchor":"middle",fill:"#444"},g);


const pt=tx(L0+2,mTop+4.5,"'1' (positively correlated)",{"font-size":4.2,fill:"#ff3333"},g);


const nt=tx(xR(20500),mBot-2,"'0' (negatively correlated)",{"font-size":4.2,"text-anchor":"middle",fill:"#4444ff"},g);


const ne=tx(ox+160,oy+Ly.es0+17,gseaNES[pi],{"font-size":12.8,fill:"#111"},g);


const fd=tx(ox+160,oy+Ly.es0+33,gseaFDR[pi],{"font-size":12.8,fill:"#111"},g);


const ey=tx(0,0,"Enrichment score (ES)",{"font-size":6.3,"font-weight":"bold","text-anchor":"middle",transform:"translate("+(ox+13)+","+(oy+(Ly.es0+Ly.es1)/2)+") rotate(-90)"},g);


const my=tx(0,0,"Ranked list metric (Signal2Noise)",{"font-size":5.6,"text-anchor":"middle",transform:"translate("+(ox+15)+","+(oy+(Ly.h1+Ly.tt)/2+4)+") rotate(-90)"},g);


const xt=tx(ox+148,oy+Ly.tt,"Rank in Ordered Dataset",{"font-size":6.2,"text-anchor":"middle",fill:"#222"},g);


});
</script>
</body></html>
